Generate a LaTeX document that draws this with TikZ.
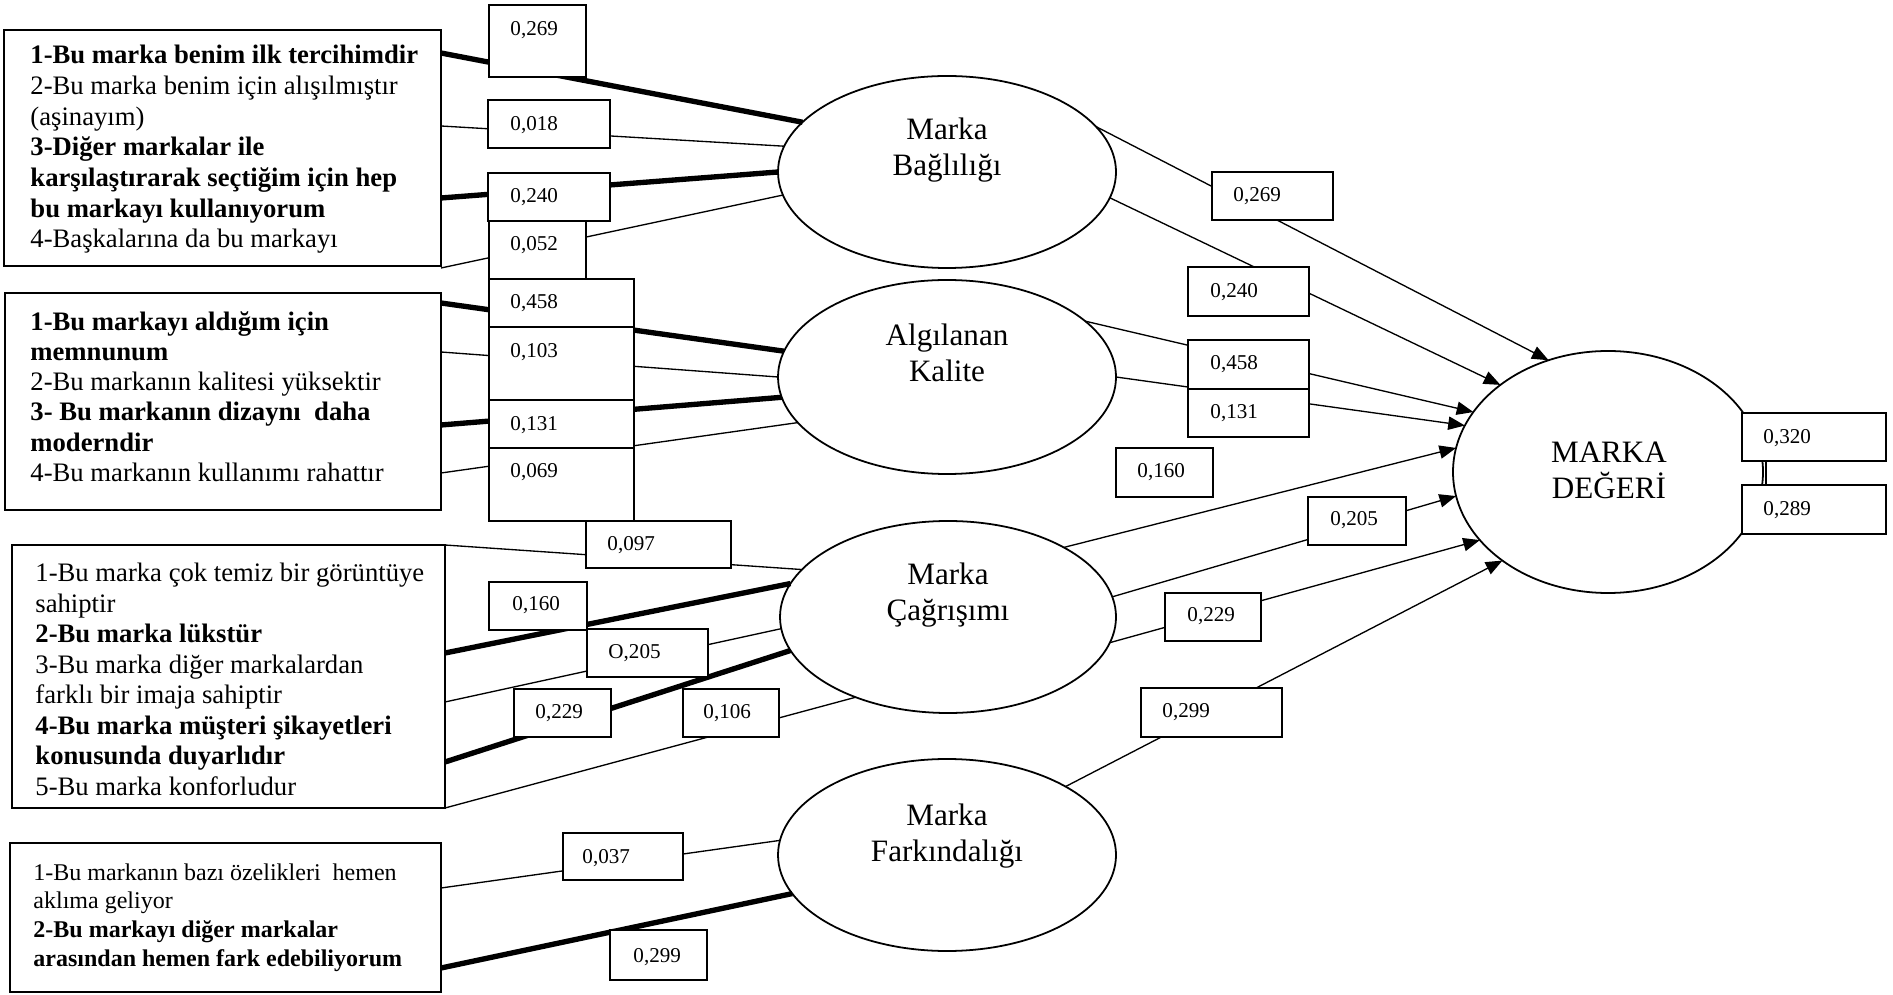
\documentclass[tikz,border=0pt]{standalone}
\usepackage{fontspec}
\setmainfont{Liberation Serif}
\usetikzlibrary{shapes.geometric,arrows.meta}

% value box: name, x1, y1, x2, y2, text x, text y, value
\newcommand\valuebox[8]{%
  \node[numbox,minimum width={(#4-#2)*0.45pt},minimum height={(#5-#3)*0.45pt}]
    (#1) at ({(#2+#4)/2},{(#3+#5)/2}) {};
  \node[numtext] (#1-val) at (#6,#7) {#8};}

\begin{document}
\begin{tikzpicture}[x=0.45pt,y=-0.45pt,
  itembox/.style={draw,line width=0.8pt,inner sep=0pt,outer sep=0pt,anchor=north west},
  itemtext/.style={anchor=north west,align=left,inner sep=0pt,font=\fontsize{12}{13.8}\selectfont},
  latent/.style={draw,ellipse,line width=0.8pt,inner sep=0pt,outer sep=0pt},
  latentlabel/.style={align=center,inner sep=0pt,font=\fontsize{14}{16.3}\selectfont},
  numbox/.style={draw,fill=white,line width=0.7pt,inner sep=0pt,outer sep=0pt},
  numtext/.style={inner sep=0pt,anchor=west,font=\fontsize{9.5}{11}\selectfont},
  thinline/.style={line width=0.6pt},
  thickline/.style={line width=2.4pt},
  pathline/.style={line width=0.6pt,-{Triangle[length=7.5pt,width=6pt]}}
]
\fill[white] (0,0) rectangle (1893,995);
\useasboundingbox (0,0) rectangle (1893,995);

% indicator boxes
\node[itembox,minimum width={437*0.45pt},minimum height={236*0.45pt}] (A) at (4,30) {};
\node[itemtext] (A-text) at (30,45) {\textbf{1-Bu marka benim ilk tercihimdir}\\
2-Bu marka benim için alışılmıştır\\
(aşinayım)\\
\textbf{3-Diğer markalar ile}\\
\textbf{karşılaştırarak seçtiğim için hep}\\
\textbf{bu markayı kullanıyorum}\\
4-Başkalarına da bu markayı};

\node[itembox,minimum width={436*0.45pt},minimum height={217*0.45pt}] (B) at (5,293) {};
\node[itemtext,font=\fontsize{12}{13.6}\selectfont] (B-text) at (30,311) {\textbf{1-Bu markayı aldığım için}\\
\textbf{memnunum}\\
2-Bu markanın kalitesi yüksektir\\
\textbf{3- Bu markanın dizaynı~ daha}\\
\textbf{moderndir}\\
4-Bu markanın kullanımı rahattır};

\node[itembox,minimum width={433*0.45pt},minimum height={263*0.45pt}] (C) at (12,545) {};
\node[itemtext,font=\fontsize{12}{13.7}\selectfont] (C-text) at (35,563) {1-Bu marka çok temiz bir görüntüye\\
sahiptir\\
\textbf{2-Bu marka lükstür}\\
3-Bu marka diğer markalardan\\
farklı bir imaja sahiptir\\
\textbf{4-Bu marka müşteri şikayetleri}\\
\textbf{konusunda duyarlıdır}\\
5-Bu marka konforludur};

\node[itembox,minimum width={431*0.45pt},minimum height={149*0.45pt}] (D) at (10,843) {};
\node[itemtext,font=\fontsize{10.8}{13}\selectfont] (D-text) at (33,863) {1-Bu markanın bazı özelikleri~ hemen\\
aklıma geliyor\\
\textbf{2-Bu markayı diğer markalar}\\
\textbf{arasından hemen fark edebiliyorum}};

% latent constructs
\node[latent,minimum width={338*0.45pt},minimum height={192*0.45pt}] (E1) at (947,172) {};
\node[latentlabel] (E1-label) at (947,150) {Marka\\Bağlılığı};
\node[latent,minimum width={338*0.45pt},minimum height={194*0.45pt}] (E2) at (947,377) {};
\node[latentlabel] (E2-label) at (947,353) {Algılanan\\Kalite};
\node[latent,minimum width={336*0.45pt},minimum height={192*0.45pt}] (E3) at (948,617) {};
\node[latentlabel] (E3-label) at (948,595) {Marka\\Çağrışımı};
\node[latent,minimum width={338*0.45pt},minimum height={192*0.45pt}] (E4) at (947,855) {};
\node[latentlabel] (E4-label) at (947,836) {Marka\\Farkındalığı};
\node[latent,minimum width={310*0.45pt},minimum height={242*0.45pt}] (MD) at (1608,472) {};
\node[latentlabel] (MD-label) at (1609,470) {MARKA\\DEĞERİ};

% loadings
\draw[thickline] (A.east |- 0,53) -- (E1.161.3);
\draw[thinline] (A.east |- 0,126) -- (E1.171.9);
\draw[thickline] (A.east |- 0,198) -- (E1.180);
\draw[thinline] (A.east |- 0,268) -- (E1.188.4);

\draw[thickline] (B.east |- 0,303) -- (E2.171.6);
\draw[thinline] (B.east |- 0,352) -- (E2.180);
\draw[thickline] (B.east |- 0,425) -- (E2.187.7);
\draw[thinline] (B.east |- 0,473) -- (E2.197.7);

\draw[thinline] (C.north east) -- (E3.162);
\draw[thickline] (C.east |- 0,653) -- (E3.168.4);
\draw[thinline] (C.east |- 0,702) -- (E3.184.4);
\draw[thickline] (C.east |- 0,762) -- (E3.192.4);
\draw[thinline] (C.south east) -- (E3.221.5);

\draw[thinline] (D.east |- 0,888) -- (E4.175.9);
\draw[thickline] (D.east |- 0,968) -- (E4.194.5);

% structural paths
\draw[pathline] (E1.17.8) -- (MD.118.6);
\draw[pathline] (E1.351.5) -- (MD.141.7);
\draw[pathline] (E2.22.8) -- (MD.156.4);
\draw[pathline] (E2.0) -- (MD.162.8);
\draw[pathline] (E3.31.4) -- (MD.171.9);
\draw[pathline] (E3.7.7) -- (MD.189.9);
\draw[pathline] (E3.351.6) -- (MD.208.7);
\draw[pathline] (E4.30) -- (MD.220.5);

% coefficient boxes
\valuebox{n1}{489}{5}{586}{77}{510}{30}{0,269}
\valuebox{n2}{488}{100}{610}{148}{510}{125}{0,018}
\valuebox{n3}{488}{173}{610}{221}{510}{197}{0,240}
\valuebox{n4}{489}{221}{586}{279}{510}{245}{0,052}
\valuebox{n5}{489}{279}{634}{327}{510}{303}{0,458}
\valuebox{n6}{489}{327}{634}{400}{510}{352}{0,103}
\valuebox{n7}{489}{400}{634}{448}{510}{425}{0,131}
\valuebox{n8}{489}{448}{634}{521}{510}{472}{0,069}
\valuebox{n9}{586}{521}{731}{568}{607}{545}{0,097}
\valuebox{n10}{489}{582}{587}{630}{512}{605}{0,160}
\valuebox{n11}{587}{629}{708}{677}{608}{653}{O,205}
\valuebox{n12}{514}{689}{611}{737}{535}{713}{0,229}
\valuebox{n13}{683}{689}{779}{737}{703}{713}{0,106}
\valuebox{n14}{563}{833}{683}{880}{582}{858}{0,037}
\valuebox{n15}{610}{930}{707}{980}{633}{957}{0,299}

\valuebox{r1}{1212}{172}{1333}{220}{1233}{196}{0,269}
\valuebox{r2}{1188}{267}{1309}{316}{1210}{292}{0,240}
\valuebox{r3}{1188}{340}{1309}{389}{1210}{364}{0,458}
\valuebox{r4}{1188}{389}{1309}{437}{1210}{413}{0,131}
\valuebox{r5}{1116}{448}{1213}{497}{1137}{472}{0,160}
\valuebox{r6}{1308}{497}{1406}{545}{1330}{520}{0,205}
\valuebox{r7}{1165}{593}{1261}{641}{1187}{616}{0,229}
\valuebox{r8}{1141}{688}{1282}{737}{1162}{712}{0,299}
\valuebox{r9}{1742}{413}{1886}{461}{1763}{438}{0,320}
\valuebox{r10}{1742}{485}{1886}{534}{1763}{510}{0,289}
\draw[thinline] (r9.south -| 1766,0) -- (r10.north -| 1766,0);
\end{tikzpicture}
\end{document}
